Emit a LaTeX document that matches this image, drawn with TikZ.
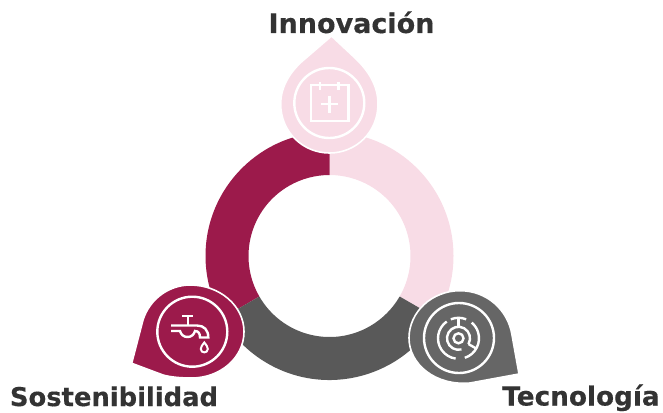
\documentclass[tikz,border=0pt]{standalone}
\usepackage{fontspec}
\setmainfont[BoldFeatures={FakeBold=0.35}]{DejaVu Sans}
\definecolor{ringpink}{HTML}{F8DCE6}
\definecolor{ringred}{HTML}{9C1A4B}
\definecolor{ringgray}{HTML}{595959}
\definecolor{dropgray}{HTML}{666666}
\definecolor{labelcol}{HTML}{333333}
\tikzset{
  px/.style={x=1pt,y=-1pt},
  dropshape/.style={draw=white,line width=1.6pt,line join=round},
  iconline/.style={draw=white,line width=2.4pt,fill=none},
  lbl/.style={text=labelcol,inner sep=0pt,anchor=base}
}
\begin{document}
\begin{tikzpicture}[px]
\useasboundingbox (0,0) rectangle (663,412);
% ring
\def\cx{329.5}\def\cy{256}\def\ro{124}\def\ri{81}
\fill[ringpink] (\cx,\cy-\ro) arc[start angle=-90,end angle=30,radius=\ro] -- (\cx+0.866*\ri,\cy+0.5*\ri) arc[start angle=30,end angle=-90,radius=\ri] -- cycle;
\fill[ringred] (\cx,\cy-\ro) arc[start angle=-90,end angle=-210,radius=\ro] -- (\cx-0.866*\ri,\cy+0.5*\ri) arc[start angle=150,end angle=270,radius=\ri] -- cycle;
\fill[ringgray] (\cx+0.866*\ro,\cy+0.5*\ro) arc[start angle=30,end angle=150,radius=\ro] -- (\cx-0.866*\ri,\cy+0.5*\ri) arc[start angle=150,end angle=30,radius=\ri] -- cycle;
% drops
\path[dropshape,fill=ringpink] (331.5,36) -- (354,57) .. controls (369,71) and (378,86) .. (378,104) .. controls (378,132) and (356,153) .. (329.5,153) .. controls (303,153) and (280.7,132) .. (280.7,104) .. controls (280.7,86) and (291,70) .. (306,58) -- cycle;
\path[dropshape,fill=ringred] (131.7,363.3) -- (143,320) .. controls (150,298) and (170,285) .. (190,285) .. controls (220,285) and (244,306) .. (244,331.7) .. controls (244,358) and (220,378) .. (191.7,378) .. controls (180,378) and (170,377) .. (163,375) -- cycle;
\path[dropshape,fill=dropgray] (519,374) -- (512,335) .. controls (508,310) and (487,290.7) .. (460,290.7) .. controls (432,290.7) and (409,312) .. (409,338) .. controls (409,364) and (435,386) .. (470,383) -- cycle;
% icon rings
\draw[iconline] (329.3,103) circle[radius=35];
\draw[iconline] (192.3,331.7) circle[radius=35];
\draw[iconline] (459,338) circle[radius=35];
% calendar
\draw[iconline] (310.7,85) rectangle (348.3,120.7);
\draw[iconline] (320,82) -- (320,90);
\draw[iconline] (338.3,82) -- (338.3,90);
\draw[iconline] (320.8,104) -- (337.8,104);
\draw[iconline] (329.3,95.5) -- (329.3,112.5);
% faucet
\draw[iconline] (182.3,316) -- (193.3,316);
\draw[iconline] (187.7,316) -- (187.7,325);
\draw[iconline] (171,325.5) -- (197,325.5) .. controls (204,325.5) and (208.3,330) .. (208.3,337.5) -- (200,337.5) .. controls (200,333.5) and (198.5,331) .. (195,331) .. controls (194,334.5) and (191.5,337) .. (187.5,337) .. controls (183.5,337) and (181,334.5) .. (180,331) -- (171,331);
\draw[white,line width=2pt,fill=none] (204.3,342.5) .. controls (202,345.5) and (200.8,347) .. (200.8,349) .. controls (200.8,353.5) and (207.8,353.5) .. (207.8,349) .. controls (207.8,347) and (206.6,345.5) .. (204.3,342.5) -- cycle;
% maze
\begin{scope}[shift={(458.5,338.3)}]
\draw[iconline] (0,0) circle[radius=5];
\draw[iconline] (-125:20.5) arc[start angle=-125,end angle=-262,radius=20.5];
\draw[iconline] (72:20.5) arc[start angle=72,end angle=-50,radius=20.5];
\draw[iconline] (-112:20.5) arc[start angle=-112,end angle=-68,radius=20.5];
\draw[iconline] (-90:20.5) -- (-90:11.5);
\draw[iconline] (30:11.5) arc[start angle=30,end angle=-285,radius=11.5];
\draw[iconline] (30:11.5) -- (30:20.5);
\end{scope}
% labels
\node[lbl,font=\fontsize{27}{30}\selectfont\bfseries] (inn) at (351.5,33) {Innovación};
\node[lbl,font=\fontsize{25.8}{30}\selectfont\bfseries] (sos) at (114,406) {Sostenibilidad};
\node[lbl,font=\fontsize{26.3}{30}\selectfont\bfseries] (tec) at (581,405.5) {Tecnología};
\end{tikzpicture}
\end{document}
